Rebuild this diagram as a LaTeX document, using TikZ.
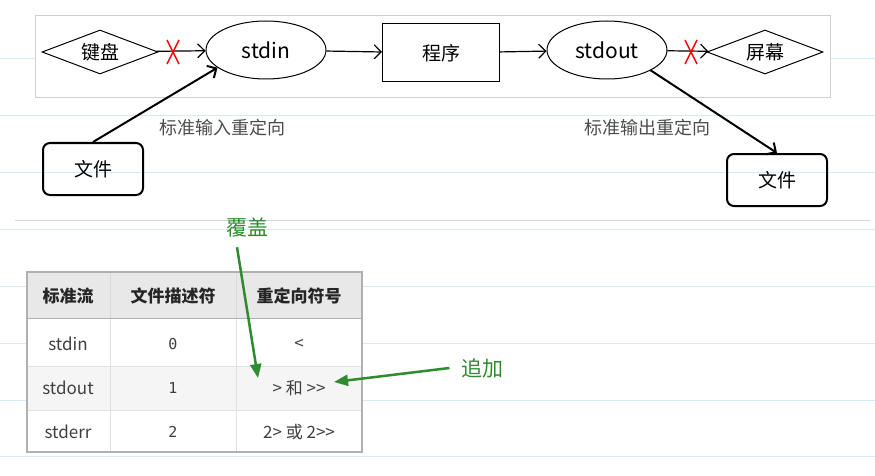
\documentclass[tikz,border=0pt]{standalone}
\usepackage{fontspec}
\setmainfont{Noto Sans CJK SC}
\newfontfamily\monofont{DejaVu Sans Mono}
\usetikzlibrary{shapes.geometric,positioning,arrows.meta}
\definecolor{rulegrey}{HTML}{B0B0B0}
\definecolor{noteblue}{HTML}{D4ECF8}
\definecolor{markgreen}{HTML}{2E8B2E}
\tikzset{
  flowbox/.style={draw,line width=1pt,inner sep=0,font=\fontsize{19}{21}\selectfont},
  dev/.style={flowbox,diamond,aspect=2.6,minimum width=116pt,minimum height=44pt},
  stream/.style={flowbox,ellipse,minimum width=120pt,minimum height=58pt,font=\fontsize{21}{23}\selectfont},
  filebox/.style={flowbox,line width=2pt,rounded corners=7pt,minimum width=100pt,minimum height=52pt},
  flow/.style={-{Straight Barb[length=7pt]},line width=1.2pt},
  cross/.style={red,line width=1.5pt},
  cell/.style={minimum height=44pt,inner sep=0,font=\fontsize{17}{19}\selectfont,text=black!75},
  head/.style={cell,font=\fontsize{17}{19}\selectfont\bfseries,text=black!85},
  num/.style={cell,font=\monofont\fontsize{15}{17}\selectfont},
  lbl/.style={text=black!70,font=\fontsize{18}{20}\selectfont},
  note/.style={markgreen,font=\fontsize{21}{23}\selectfont},
  pointer/.style={markgreen,line width=2.5pt,-{Triangle[length=14pt,width=11pt]}},
}
\begin{document}
\begin{tikzpicture}[x=1pt,y=-1pt]
  \useasboundingbox (0,0) rectangle (875,476);
  % notebook lines
  \foreach \ly in {58,115,172,229,286,343,400,456}
    \draw[noteblue] (0,\ly) -- (875,\ly);
  \fill[white] (35,15) rectangle (830,97);
  \draw[rulegrey!60] (35,15) rectangle (830,97);
  \draw[rulegrey!50,thick] (15,220) -- (870,220);

  % top flow
  \node (kbd) [dev] at (100,52) {键盘};
  \node (in) [stream] at (266,50) {stdin};
  \node (prog) [flowbox,minimum width=117pt,minimum height=58pt] at (441,53) {程序};
  \node (out) [stream] at (607,50) {stdout};
  \node (scr) [dev] at (765,52) {屏幕};
  \node (fin) [filebox] at (93,169) {文件};
  \node (fout) [filebox] at (777,180) {文件};
  \draw[flow] (kbd) -- (in);
  \draw[flow] (in) -- (prog);
  \draw[flow] (prog) -- (out);
  \draw[flow] (out) -- (scr);
  \draw[flow,line width=2pt] (fin.north) -- (in.200);
  \draw[flow,line width=2pt] (out.335) -- (fout.north);
  \draw[cross] (167,40) -- (179,64) (179,40) -- (167,64);
  \draw[cross] (685,40) -- (697,64) (697,40) -- (685,64);
  \node (inlbl) [lbl] at (222,128) {标准输入重定向};
  \node (outlbl) [lbl] at (647,128) {标准输出重定向};

  % table
  \fill[black!9] (27,272) rectangle (362,318);
  \fill[white] (27,318) rectangle (362,452);
  \fill[black!4] (27,366) rectangle (362,410);
  \draw[black!12] (27,366) -- (362,366) (27,410) -- (362,410)
        (110,318) -- (110,452) (236,318) -- (236,452);
  \draw[black!15] (110,272) -- (110,318) (236,272) -- (236,318);
  \draw[rulegrey,thick] (27,318) -- (362,318);
  \draw[rulegrey,very thick] (27,272) rectangle (362,452);
  \node (h1) [head] at (68,296) {标准流};
  \node (h2) [head] at (173,296) {文件描述符};
  \node (h3) [head] at (299,296) {重定向符号};
  \node (r1a) [cell] at (68,344) {stdin};
  \node (r1b) [num] at (173,344) {0};
  \node (r1c) [cell] at (299,344) {<};
  \node (r2a) [cell] at (68,388) {stdout};
  \node (r2b) [num] at (173,388) {1};
  \node (r2c) [cell] at (299,388) {> 和 {>}{>}};
  \node (r3a) [cell] at (68,432) {stderr};
  \node (r3b) [num] at (173,432) {2};
  \node (r3c) [cell] at (299,432) {2> 或 2{>}{>}};

  % green notes
  \node (over) [note] at (247,228) {覆盖};
  \node (app) [note] at (482,368) {追加};
  \draw[pointer] (over.south) ++(-10,6) coordinate (ov) (ov) -- (258,378);
  \draw[pointer] (app.west) ++(-8,0) coordinate (ap) (ap) -- (334,382);
\end{tikzpicture}
\end{document}
